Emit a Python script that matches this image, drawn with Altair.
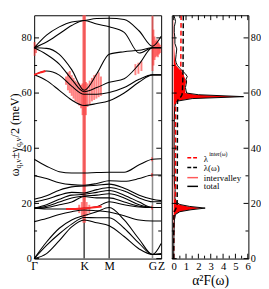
import altair as alt
import pandas as pd

FONT = "Liberation Serif"
W_L, W_R, H = 131, 79, 251

# ---------------- left panel: phonon dispersion ----------------
sym_u = [0.0, 1.333, 2.0, 3.155, 3.386]
sym_lab = ["Γ", "K", "M", "G", "Z"]
vline_u = [1.333, 2.0, 3.155]
vline_c = ["#4d4d4d", "#4d4d4d", "#8c8c8c"]

u_grid = [0.0, 0.33, 0.67, 1.0, 1.333, 1.67, 2.0, 2.4, 2.8, 3.155, 3.386]

b01 = [36.0, 33.5, 31.5, 31.0, 31.0, 31.2, 31.3, 31.3, 34.0, 36.0, 36.2]
b02 = [30.1, 29.0, 27.5, 26.8, 26.6, 27.2, 28.2, 28.0, 29.0, 30.3, 30.3]
b03 = [21.5, 22.8, 24.8, 26.0, 26.3, 26.6, 27.0, 25.5, 23.0, 21.5, 21.0]
b04 = [20.5, 21.5, 23.0, 24.0, 23.8, 25.0, 25.8, 24.5, 22.0, 20.6, 20.6]
b05 = [18.3, 19.5, 21.5, 23.0, 23.3, 24.0, 24.7, 23.0, 20.5, 18.5, 18.5]
b06 = [18.3, 19.0, 20.5, 22.0, 22.7, 23.0, 23.5, 22.0, 19.5, 18.5, 18.5]
b07 = [18.3, 18.5, 19.5, 20.5, 22.5, 22.0, 22.0, 20.5, 19.0, 18.5, 18.5]
b08 = [18.3, 18.0, 18.0, 18.0, 18.2, 18.8, 20.6, 19.5, 18.7, 18.5, 18.5]
b09 = [13.4, 14.5, 16.0, 17.0, 17.6, 17.3, 16.9, 15.5, 14.0, 13.6, 13.6]
b10 = [0.0, 6.0, 11.0, 14.0, 15.6, 17.0, 18.5, 14.0, 7.0, 1.5, 5.5]
b11 = [0.0, 4.8, 9.0, 12.5, 14.9, 14.8, 14.8, 11.0, 5.5, 1.5, 1.8]
b12 = [0.0, 1.8, 6.5, 11.5, 14.0, 13.0, 11.9, 8.0, 3.5, 1.5, 1.5]
b13 = [76.4, 81.0, 84.0, 85.8, 86.3, 87.0, 87.1, 86.7, 82.5, 77.0, 80.6]
b14 = [76.4, 78.5, 81.5, 84.5, 86.3, 85.0, 84.0, 82.0, 74.5, 76.4, 76.4]
b15 = [76.4, 76.2, 74.0, 68.5, 61.0, 67.0, 74.1, 75.0, 75.5, 76.4, 76.4]
b16 = [76.4, 74.0, 70.5, 65.0, 60.5, 62.0, 63.9, 65.2, 70.5, 76.4, 76.4]
b17 = [66.6, 68.0, 66.5, 62.5, 59.6, 59.6, 60.2, 62.0, 65.0, 66.6, 66.6]
b18 = [66.6, 64.5, 61.0, 57.5, 55.5, 56.2, 57.2, 60.0, 64.0, 66.6, 66.6]
branches = [b01, b02, b03, b04, b05, b06, b07, b08, b09,
            b10, b11, b12, b13, b14, b15, b16, b17, b18]

# intervalley linewidth bars (position, lower / upper energy)
spk_u = [0.85, 0.90, 0.95, 1.00, 1.05, 1.10, 1.15, 1.20, 1.25, 1.29, 1.38, 1.42,
         1.48, 1.54, 1.60, 1.66, 1.72, 1.78,
         1.20, 1.27, 1.40, 1.47,
         0.01, 0.05,
         3.155, 3.18, 3.21, 3.24, 3.27, 3.30, 3.33, 3.36,
         2.70, 2.78, 2.86,
         3.14, 3.14, 3.14]
spk_lo = [63.0, 61.0, 60.0, 59.0, 58.0, 57.0, 56.5, 55.5, 54.5, 52.0, 52.0, 55.0,
          56.0, 57.0, 57.5, 58.0, 58.5, 59.0,
          16.5, 15.5, 15.5, 16.5,
          73.5, 74.5,
          68.0, 70.0, 72.0, 73.0, 73.5, 73.0, 74.0, 74.5,
          66.5, 67.0, 68.0,
          35.3, 29.6, 17.8]
spk_hi = [66.0, 67.5, 68.0, 66.5, 65.5, 64.5, 64.0, 63.5, 63.0, 63.5, 64.0, 63.5,
          64.5, 65.5, 66.5, 67.0, 67.5, 66.0,
          19.5, 20.5, 20.5, 19.5,
          78.5, 77.5,
          88.0, 83.0, 80.5, 79.0, 79.5, 78.5, 78.0, 77.5,
          70.5, 71.0, 71.5,
          36.7, 31.0, 19.2]

strip_u = [1.333]
strip_lo = [13.0]
strip_hi = [88.2]

hl_id = [0, 0, 0, 0, 0, 1, 1, 1]
hl_u = [0.85, 1.1, 1.333, 1.55, 1.8, 0.0, 0.15, 0.3]
hl_v = [18.0, 18.0, 18.2, 18.5, 18.9, 66.6, 67.4, 68.0]

y_major = [0, 20, 40, 60, 80]
y_minor = [10, 30, 50, 70]

# ---------------- right panel: Eliashberg function ----------------
w_tot = [0, 5, 10, 14, 16, 17, 17.7, 18.3, 18.9, 19.6, 20.5, 22, 25, 27, 30, 35, 40,
         45, 50, 55, 57, 58.0, 58.7, 59.4, 60, 61, 62, 63, 64, 65, 66, 67, 68, 69,
         70, 71, 72, 74, 76, 78, 80, 82, 84, 86, 87, 88]
a2f_tot = [0, 0.01, 0.03, 0.06, 0.15, 0.5, 1.4, 2.55, 1.3, 0.5, 0.2, 0.1, 0.12, 0.06,
           0.05, 0.05, 0.04, 0.04, 0.05, 0.08, 0.2, 1.5, 5.66, 2.0, 1.05, 1.0, 0.95,
           1.0, 1.05, 1.0, 1.1, 0.95, 0.7, 0.5, 0.3, 0.2, 0.15, 0.2, 0.25, 0.1, 0.1,
           0.05, 0.05, 0.15, 0.1, 0.02]
w_int = [0, 14, 16, 17, 17.7, 18.3, 18.9, 19.6, 20.5, 22, 30, 40, 50, 55, 57, 58.0,
         58.7, 59.4, 60, 61, 62, 63, 64, 65, 66, 67, 68, 69, 70, 72, 76, 80, 86, 88]
a2f_int = [0, 0.03, 0.12, 0.45, 1.3, 2.35, 1.15, 0.4, 0.15, 0.06, 0.03, 0.03, 0.03,
           0.05, 0.15, 1.4, 5.5, 1.8, 0.95, 0.95, 0.9, 0.95, 1.0, 0.95, 0.85, 0.8,
           0.6, 0.4, 0.2, 0.1, 0.05, 0.03, 0.02, 0]
w_lam = [0, 10, 15, 17, 18, 19, 20, 25, 40, 57, 58, 58.7, 59.5, 61, 65, 70, 80, 88]
lam_tot = [0, 0.005, 0.02, 0.06, 0.17, 0.26, 0.28, 0.29, 0.3, 0.31, 0.4, 0.6, 0.68,
           0.71, 0.74, 0.76, 0.77, 0.78]
lam_int = [0, 0.003, 0.01, 0.04, 0.1, 0.14, 0.15, 0.15, 0.15, 0.16, 0.25, 0.45, 0.53,
           0.55, 0.57, 0.58, 0.59, 0.6]

x_major = [0, 1, 2, 3, 4, 5, 6]
x_minor = [0.5, 1.5, 2.5, 3.5, 4.5, 5.5]

leg_labels = ["λ", "λ(ω)", "intervalley", "total"]
leg_sup = "inter(ω)"

# ---------------- build ----------------
rows = []
for i, b in enumerate(branches):
    for u, v in zip(u_grid, b):
        rows.append({"branch": i, "u": u, "v": v})
df_br = pd.DataFrame(rows)

ys = alt.Scale(domain=[0, 88.2], nice=False, zero=False)
us = alt.Scale(domain=[sym_u[0], sym_u[-1]], nice=False, zero=False)
xs = alt.Scale(domain=[-0.15, 6.05], nice=False, zero=False)

lab_expr = " : ".join(
    f"abs(datum.value - {u}) < 0.01 ? '{l}'" for u, l in zip(sym_u, sym_lab)
) + " : ''"

AX_LU = alt.Axis(values=sym_u, labelExpr=lab_expr, ticks=False, domain=False, grid=False,
                 title=None, labelFontSize=12, labelPadding=2, labelFlush=False,
                 labelOverlap=False)
AX_LY = alt.Axis(values=y_major, ticks=False, domain=False, grid=False, title=None,
                 labelFontSize=10.5, labelPadding=3, labelFlush=False)
AX_RY = alt.Axis(orient="right", values=y_major, ticks=False, domain=False, grid=False,
                 title=None, labelFontSize=10.5, labelPadding=2, labelFlush=False)
AX_RX = alt.Axis(values=x_major, format="d", ticks=False, domain=False, grid=False,
                 title="α²F(ω)", titleFontSize=14, titlePadding=3, labelFontSize=11,
                 labelPadding=2, labelFlush=False)


def LU(f):
    return alt.X(f, scale=us, axis=AX_LU)


def LY(f):
    return alt.Y(f, scale=ys, axis=AX_LY)


def RX(f):
    return alt.X(f, scale=xs, axis=AX_RX)


def RY(f):
    return alt.Y(f, scale=ys, axis=AX_RY)


lines = alt.Chart(df_br).mark_line(color="black", strokeWidth=1.1, interpolate="monotone").encode(
    x=LU("u:Q"), y=LY("v:Q"), detail="branch:N")
vl = alt.Chart(pd.DataFrame({"u": vline_u, "c": vline_c})).mark_rule(strokeWidth=1.6).encode(
    x=LU("u:Q"), color=alt.Color("c:N", scale=None))
strip = alt.Chart(pd.DataFrame({"u": strip_u, "lo": strip_lo, "hi": strip_hi})).mark_rule(
    color="#ff5a5a", strokeWidth=3.5, opacity=0.9
).encode(x=LU("u:Q"), y=LY("lo:Q"), y2="hi:Q")
spikes = alt.Chart(pd.DataFrame({"u": spk_u, "lo": spk_lo, "hi": spk_hi})).mark_rule(
    color="#ff3030", strokeWidth=2, opacity=0.6
).encode(x=LU("u:Q"), y=LY("lo:Q"), y2="hi:Q")
hl = alt.Chart(pd.DataFrame({"id": hl_id, "u": hl_u, "v": hl_v})).mark_line(
    color="#ff2020", strokeWidth=2, interpolate="monotone"
).encode(x=LU("u:Q"), y=LY("v:Q"), detail="id:N")


def yticks(vals, x0, x1, Y):
    return alt.Chart(pd.DataFrame({"t": vals})).mark_rule(color="black", strokeWidth=1).encode(
        y=Y("t:Q"), x=alt.value(x0), x2=alt.value(x1))


def txt(s, x, y, size, angle=0, color="black"):
    return alt.Chart(pd.DataFrame({"s": [s]})).mark_text(
        align="left", baseline="middle", fontSize=size, angle=angle, color=color, font=FONT
    ).encode(text="s:N", x=alt.value(x), y=alt.value(y))


ytitle = [
    txt("ω", -20, 166, 12, 270),
    txt("q,ν", -16, 158, 8, 270),
    txt("±γ", -20, 148, 12, 270),
    txt("q,ν", -16, 136, 8, 270),
    txt("/2 (meV)", -20, 126, 12.5, 270),
]

left = alt.layer(
    vl, strip, spikes, lines, hl,
    yticks(y_major, 0, 5, LY), yticks(y_minor, 0, 3, LY),
    yticks(y_major, W_L - 5, W_L, LY), yticks(y_minor, W_L - 3, W_L, LY),
    *ytitle,
).properties(width=W_L, height=H)

tot = alt.Chart(pd.DataFrame({"w": w_tot, "a": a2f_tot})).mark_line(color="black", strokeWidth=1).encode(
    y=RY("w:Q"), x=RX("a:Q"), order="w:Q")
area = alt.Chart(pd.DataFrame({"w": w_int, "a": a2f_int})).mark_area(
    color="red", orient="horizontal"
).encode(y=RY("w:Q"), x=RX("a:Q"), x2=alt.datum(0))
df_l = pd.DataFrame({"w": w_lam, "lt": lam_tot, "li": lam_int})
lam1 = alt.Chart(df_l).mark_line(color="black", strokeWidth=1.5, strokeDash=[5, 3]).encode(
    y=RY("w:Q"), x=RX("lt:Q"), order="w:Q")
lam2 = alt.Chart(df_l).mark_line(color="red", strokeWidth=1.5, strokeDash=[5, 3]).encode(
    y=RY("w:Q"), x=RX("li:Q"), order="w:Q")


def xticks(vals, y0, y1):
    return alt.Chart(pd.DataFrame({"t": vals})).mark_rule(color="black", strokeWidth=1).encode(
        x=RX("t:Q"), y=alt.value(y0), y2=alt.value(y1))


def legsym(color, dash, y):
    kw = {"strokeDash": dash} if dash else {}
    return alt.Chart(pd.DataFrame({"k": [0]})).mark_rule(color=color, strokeWidth=1.5, **kw).encode(
        x=alt.value(16), x2=alt.value(27), y=alt.value(y))


legend = [
    legsym("red", [4, 2], 147), txt(leg_labels[0], 33, 148, 9), txt(leg_sup, 38.5, 143, 6),
    legsym("black", [4, 2], 157), txt(leg_labels[1], 33, 157.5, 9),
    legsym("#ff5a5a", None, 167.5), txt(leg_labels[2], 33, 167.5, 9),
    legsym("black", None, 176.5), txt(leg_labels[3], 33, 176.5, 9),
]

right = alt.layer(
    area, tot, lam2, lam1,
    xticks(x_major, H, H - 5), xticks(x_minor, H, H - 3),
    xticks(x_major, 0, 5), xticks(x_minor, 0, 3),
    yticks(y_major, 0, 5, RY), yticks(y_minor, 0, 3, RY),
    yticks(y_major, W_R - 5, W_R, RY), yticks(y_minor, W_R - 3, W_R, RY),
    *legend,
).properties(width=W_R, height=H)

chart = alt.hconcat(left, right, spacing=11, bounds="flush").properties(
    padding={"left": 0, "top": 0, "right": 0, "bottom": 0}
).configure_view(stroke="black", strokeWidth=1).configure_axis(
    labelFont=FONT, titleFont=FONT, labelColor="black", titleColor="black",
    titleFontWeight="normal"
)

chart.save("out.html", embed_options={"renderer": "svg", "actions": False})
